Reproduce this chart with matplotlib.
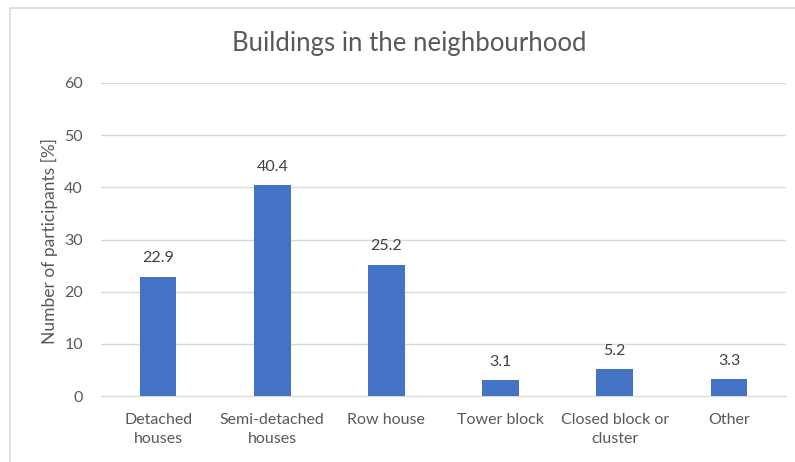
import matplotlib.pyplot as plt
from matplotlib.patches import Rectangle

categories = ['Detached\nhouses', 'Semi-detached\nhouses', 'Row house',
              'Tower block', 'Closed block or\ncluster', 'Other']
values = [22.9, 40.4, 25.2, 3.1, 5.2, 3.3]
yticks = [0, 10, 20, 30, 40, 50, 60]

text_col = '#595959'
grid_col = '#D9D9D9'
bar_col = '#4472C4'

plt.rcParams['font.family'] = ['Lato', 'DejaVu Sans']

fig = plt.figure(figsize=(7.95, 4.62), dpi=100)
ax = fig.add_axes([101/795, 1 - 396/462, (786-101)/795, (396-83)/462])

x = range(len(categories))
bars = ax.bar(x, values, width=0.32, color=bar_col, zorder=3)
for b, v in zip(bars, values):
    ax.annotate(f'{v:.1f}', (b.get_x() + b.get_width()/2, v),
                xytext=(0, 8), textcoords='offset points',
                ha='center', va='bottom', fontsize=11.5, color='#404040')

ax.set_xlim(-0.5, len(categories) - 0.5)
ax.set_ylim(0, 60)
ax.set_yticks(yticks)
ax.set_xticks(list(x))
ax.set_xticklabels(categories, fontsize=11.5, color=text_col, linespacing=1.45)
ax.tick_params(axis='y', labelsize=11.5, labelcolor=text_col, length=0, pad=13)
ax.tick_params(axis='x', length=0, pad=12)
ax.grid(axis='y', color=grid_col, linewidth=1, zorder=0)
for s in ['top', 'right', 'left']:
    ax.spines[s].set_visible(False)
ax.spines['bottom'].set_color(grid_col)

ax.set_ylabel('Number of participants [%]', fontsize=12.5, color=text_col)
ax.yaxis.set_label_coords((58 - 101)/685, (396 - 241)/313)
fig.text(409/795, 1 - 43/462, 'Buildings in the neighbourhood',
         ha='center', va='center', fontsize=18.5, color=text_col)

# chart border
fig.add_artist(Rectangle((10/795, -0.05), 1.0, 1 - 8/462 + 0.05,
                         transform=fig.transFigure, fill=False,
                         edgecolor='#D9D9D9', linewidth=1.2))

fig.savefig('out.png', dpi=100, facecolor='white')
